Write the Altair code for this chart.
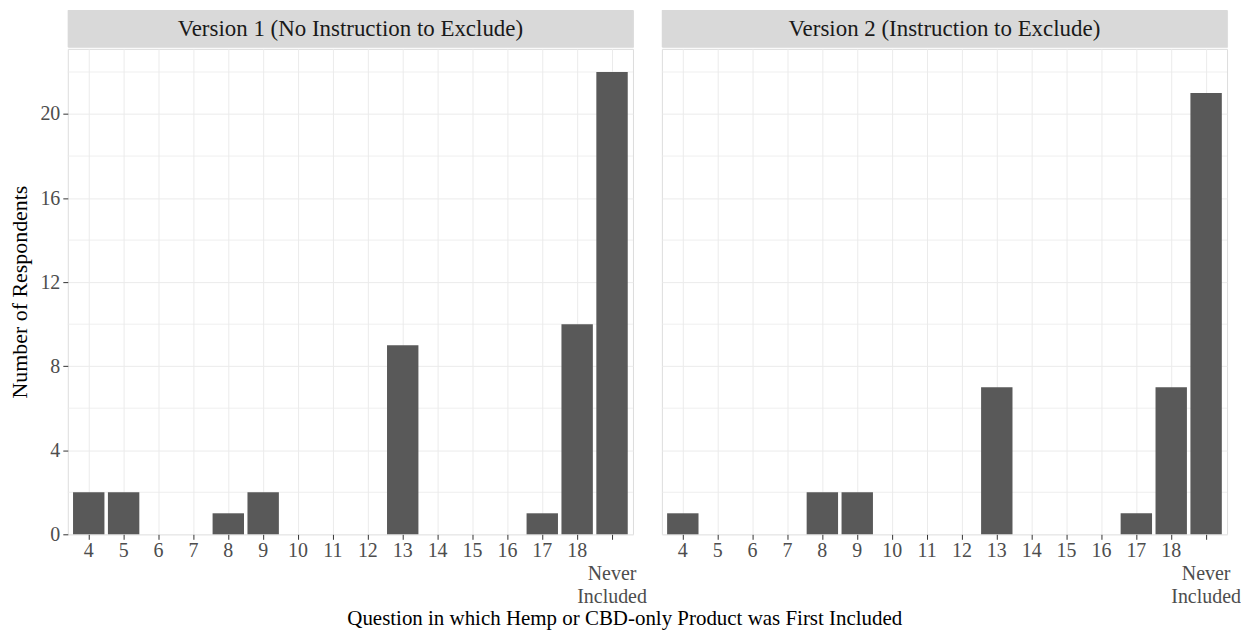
import altair as alt
import pandas as pd

categories = ["4", "5", "6", "7", "8", "9", "10", "11", "12", "13", "14", "15", "16", "17", "18", "Never"]
v1_counts = [2, 2, 0, 0, 1, 2, 0, 0, 0, 9, 0, 0, 0, 1, 10, 22]
v2_counts = [1, 0, 0, 0, 2, 2, 0, 0, 0, 7, 0, 0, 0, 1, 7, 21]
panel_titles = ["Version 1 (No Instruction to Exclude)", "Version 2 (Instruction to Exclude)"]
major_ticks = [0, 4, 8, 12, 16, 20]
minor_ticks = [2, 6, 10, 14, 18, 22]
y_max = 23.1

FONT = "Liberation Serif"
W = 567
H = 487
STRIP_H = 37
GRID = "#ebebeb"
TICK_FS = 20


def panel(counts, title, show_y, key):
    df = pd.DataFrame({"cat": categories, "n": counts, "panel": key})
    minor_df = pd.DataFrame({"v": minor_ticks, "panel": key})
    x = alt.X(
        "cat:N",
        sort=categories,
        scale=alt.Scale(domain=categories, paddingInner=0.1, paddingOuter=0.15),
        axis=alt.Axis(
            title=None,
            labelAngle=0,
            labelFont=FONT,
            labelFontSize=TICK_FS,
            labelColor="#4d4d4d",
            labelPadding=1,
            labelLineHeight=23,
            labelExpr="datum.value == 'Never' ? ['', 'Never', 'Included'] : datum.value",
            tickColor="#333333",
            tickSize=5,
            domain=False,
            grid=True,
            gridColor=GRID,
            bandPosition=0.5,
        ),
    )
    if show_y:
        yaxis = alt.Axis(
            title="Number of Respondents",
            values=major_ticks,
            labelFont=FONT,
            labelFontSize=TICK_FS,
            labelColor="#4d4d4d",
            labelPadding=3,
            tickColor="#333333",
            tickSize=5,
            titleFont=FONT,
            titleFontSize=22,
            titleFontWeight="normal",
            titleColor="#000000",
            titlePadding=8,
            domain=False,
            grid=True,
            gridColor=GRID,
        )
    else:
        yaxis = alt.Axis(
            title=None, values=major_ticks, labels=False, ticks=False,
            domain=False, grid=True, gridColor=GRID,
        )
    yscale = alt.Scale(domain=[0, y_max], nice=False, zero=True)

    minor = alt.Chart(minor_df).mark_rule(color=GRID, strokeWidth=0.8).encode(
        y=alt.Y("v:Q", scale=yscale, axis=yaxis)
    )
    bars = alt.Chart(df).transform_filter("datum.n > 0").mark_bar(color="#595959").encode(
        x=x,
        y=alt.Y("n:Q", scale=yscale, axis=yaxis),
    )
    body = alt.layer(minor, bars).properties(width=W, height=H)

    sdf = pd.DataFrame({"t": [title]})
    strip_rect = alt.Chart(sdf).mark_rect(color="#d9d9d9").encode(
        x=alt.value(0), x2=alt.value(W), y=alt.value(0), y2=alt.value(STRIP_H)
    )
    strip_text = alt.Chart(sdf).mark_text(
        font=FONT, fontSize=23, color="#1a1a1a", baseline="middle", align="center"
    ).encode(text="t:N", x=alt.value(W / 2), y=alt.value(STRIP_H / 2 + 1))
    strip = alt.layer(strip_rect, strip_text).properties(width=W, height=STRIP_H)

    return alt.vconcat(strip, body, spacing=0)


chart = alt.hconcat(
    panel(v1_counts, panel_titles[0], True, "v1"),
    panel(v2_counts, panel_titles[1], False, "v2"),
    spacing=14,
).properties(
    padding=0,
    title=alt.TitleParams(
        text="Question in which Hemp or CBD-only Product was First Included",
        orient="bottom",
        anchor="middle",
        font=FONT,
        fontSize=21,
        fontWeight="normal",
        color="#000000",
        offset=1,
    )
).resolve_scale(x="independent", y="independent").configure_view(
    stroke="#333333", strokeWidth=1.2
).configure(background="white")

chart.save("out.html", embed_options={"renderer": "svg", "actions": False})
